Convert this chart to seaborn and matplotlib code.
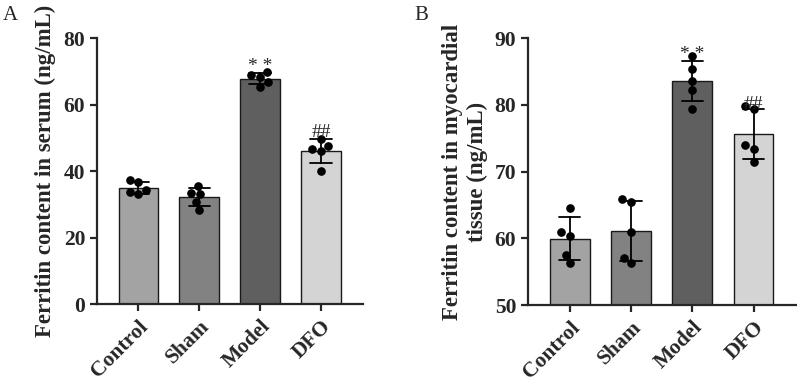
import numpy as np
import pandas as pd
import seaborn as sns
import matplotlib.pyplot as plt

groups = ["Control", "Sham", "Model", "DFO"]
bar_colors = ["#a3a3a3", "#828282", "#5f5f5f", "#d4d4d4"]

serum = {
    "Control": [37.2, 36.7, 33.1, 34.3, 33.7],
    "Sham": [35.6, 33.1, 33.5, 30.8, 28.4],
    "Model": [69.7, 68.9, 68.2, 66.9, 65.4],
    "DFO": [49.7, 46.6, 47.4, 45.9, 40.0],
}
tissue = {
    "Control": [64.5, 60.4, 60.9, 57.5, 56.3],
    "Sham": [65.9, 65.5, 60.9, 57.1, 56.3],
    "Model": [87.3, 85.4, 83.6, 82.2, 79.4],
    "DFO": [79.4, 79.8, 73.9, 73.4, 71.5],
}
marks = {"Model": "* *", "DFO": "##"}

sns.set_style("ticks")
plt.rcParams["font.family"] = ["Liberation Serif", "DejaVu Serif"]
plt.rcParams["font.weight"] = "bold"
plt.rcParams["axes.labelweight"] = "bold"


def to_long(d):
    rows = [(g, v) for g in groups for v in d[g]]
    return pd.DataFrame(rows, columns=["group", "value"])


def panel(ax, d, ylim, yticks, ylabel, pad):
    df = to_long(d)
    sns.barplot(data=df, x="group", y="value", hue="group", order=groups,
                hue_order=groups, palette=bar_colors, errorbar="sd",
                capsize=0.35, width=0.65, edgecolor="#1a1a1a", linewidth=1.0,
                err_kws={"color": "black", "linewidth": 1.3},
                legend=False, ax=ax)
    sns.swarmplot(data=df, x="group", y="value", order=groups, color="black",
                  size=5.3, linewidth=0.9, edgecolor="black", ax=ax)
    for g, s in marks.items():
        vals = np.array(d[g])
        top = max(vals.mean() + vals.std(ddof=1), vals.max())
        ax.text(groups.index(g), top + pad, s, ha="center", va="bottom",
                fontsize=14, fontweight="normal")
    ax.set_ylim(*ylim)
    ax.set_yticks(yticks)
    ax.set_xlim(-0.68, 3.69)
    ax.set_xlabel("")
    ax.set_ylabel(ylabel, fontsize=16.5, fontweight="bold", labelpad=5)
    ax.tick_params(axis="both", labelsize=15.5, width=1.6, length=5)
    ax.tick_params(axis="x", pad=4)
    for lab in ax.get_xticklabels():
        lab.set_rotation(45)
        lab.set_ha("right")
        lab.set_rotation_mode("anchor")
        lab.set_fontweight("bold")
    for lab in ax.get_yticklabels():
        lab.set_fontweight("bold")
    sns.despine(ax=ax)
    for sp in ["left", "bottom"]:
        ax.spines[sp].set_linewidth(1.6)


fig = plt.figure(figsize=(7.97, 3.86), dpi=100)
axA = fig.add_axes([0.1217, 0.2124, 0.3338, 0.689])
axB = fig.add_axes([0.6625, 0.2098, 0.336, 0.6917])

panel(axA, serum, (0, 80), [0, 20, 40, 60, 80],
      "Ferritin content in serum (ng/mL)", -0.8)
panel(axB, tissue, (50, 90), [50, 60, 70, 80, 90],
      "Ferritin content in myocardial\ntissue (ng/mL)", -1.0)

fig.text(0.003, 0.985, "A", fontsize=15, fontweight="normal", va="top")
fig.text(0.52, 0.985, "B", fontsize=15, fontweight="normal", va="top")

fig.savefig("out.png", dpi=100)
